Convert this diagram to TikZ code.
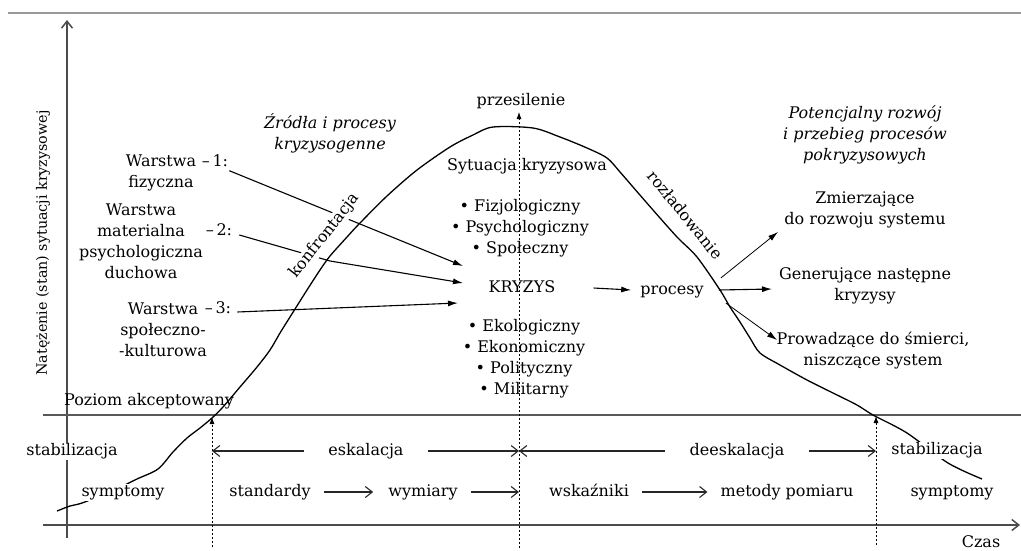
\documentclass[tikz,border=0pt]{standalone}
\usepackage{fontspec}
\setmainfont{DejaVu Serif}
\usetikzlibrary{arrows.meta}
\pgfdeclarelayer{bg}
\pgfsetlayers{bg,main}
\begin{document}
\begin{tikzpicture}[x=1pt,y=-1pt,
  every node/.style={inner sep=1pt},
  base/.style={font=\fontsize{16}{21}\selectfont, text=black},
  one/.style={base, text height=11.5pt, text depth=3.5pt},
  many/.style={base, align=center},
  ital/.style={many, font=\fontsize{16}{21}\selectfont\itshape},
  axisline/.style={draw=black!70, line width=1.5pt},
  level/.style={draw=black!65, line width=1.6pt},
  guide/.style={draw=black, line width=0.8pt, dash pattern=on 2.5pt off 1.5pt,
    -{Latex[length=7pt,width=5pt]}},
  conn/.style={draw=black, line width=1.1pt, -{Latex[length=10pt,width=6pt]}},
  barb/.style={draw=black!85, line width=1.1pt, -{Straight Barb[length=7pt,width=11pt]}},
  curve/.style={draw=black, line width=1.3pt},
]
\useasboundingbox (0,0) rectangle (1021,550);

% ---------- labels ----------
\node[base, font=\fontsize{14.3}{18}\selectfont, rotate=90] (ylab) at (43,243)
  {Natężenie (stan) sytuacji kryzysowej};
\node[one] (top) at (521,101) {przesilenie};
\node[ital] (src) at (330,133) {Źródła i procesy\\kryzysogenne};
\node[ital] (post) at (865,135) {Potencjalny rozwój\\i przebieg procesów\\pokryzysowych};

\node[many] (w1) at (161,172.5) {Warstwa\\fizyczna};
\node[one] (n1) at (215,162) {–\,1:};
\node[many] (w2) at (141,241.5) {Warstwa\\materialna\\psychologiczna\\duchowa};
\node[one] (n2) at (219,231) {–\,2:};
\node[many] (w3) at (163,330) {Warstwa\\społeczno-\\-kulturowa};
\node[one] (n3) at (218,309) {–\,3:};

\node[one] (sit) at (527,166) {Sytuacja kryzysowa};
\node[many] (l1) at (520,228.5) {• Fizjologiczny\\• Psychologiczny\\• Społeczny};
\node[one] (kry) at (522,288) {KRYZYS};
\node[many] (l2) at (524,358.5) {• Ekologiczny\\• Ekonomiczny\\• Polityczny\\• Militarny};
\node[one] (proc) at (672,290) {procesy};

\node[many] (r1) at (865,209.5) {Zmierzające\\do rozwoju systemu};
\node[many] (r2) at (865,286) {Generujące następne\\kryzysy};
\node[many] (r3) at (873,351) {Prowadzące do śmierci,\\niszczące system};

\node[one, fill=white, rotate=52] (konf) at (325,236) {konfrontacja};
\node[one, rotate=-51] (rozl) at (684,216) {rozładowanie};

\node[one] (acc) at (149,401) {Poziom akceptowany};
\node[one, fill=white] (stabL) at (72,451) {stabilizacja};
\node[one] (esk) at (366,451) {eskalacja};
\node[one] (desk) at (737,451) {deeskalacja};

\node[one] (std) at (270,492) {standardy};
\node[one] (wym) at (423,492) {wymiary};
\node[one] (wsk) at (589,492) {wskaźniki};
\node[one] (met) at (787,492) {metody pomiaru};
\node[one] (czas) at (981,543) {Czas};

% ---------- arrow ends ----------
\coordinate (k1) at (463,266);
\coordinate (k2) at (463,283);
\coordinate (k3) at (458,303);
\coordinate (bend2) at (330,261);
\coordinate (t1) at (778,232);
\coordinate (t2) at (772,289);
\coordinate (t3) at (777,340);

\coordinate (g1) at (212,451);
\coordinate (g2) at (519,451);
\coordinate (g3) at (876,451);

% ---------- frame, axes and connectors (underneath the labels) ----------
\begin{pgfonlayer}{bg}
  \draw[draw=black!40, line width=1.2pt] (8,13) -- (1021,13);
  \draw[axisline, -{Straight Barb[length=7pt,width=11pt]}] (67,538) -- (67,20);
  \draw[axisline, -{Straight Barb[length=7pt,width=11pt]}] (43,525) -- (1020,525);
  \draw[level] (43,415) -- (1021,415);

  \draw[guide] (212,547) -- (212,417);
  \draw[guide] (519,548) -- (519,112);
  \draw[guide] (876,545) -- (876,416);

  % phase arrows
  \draw[barb] ([xshift=-23pt]esk.west) -- (g1);
  \draw[barb] ([xshift=23pt]esk.east) -- (g2);
  \draw[barb] ([xshift=-23pt]desk.west) -- (g2);
  \draw[barb] ([xshift=23pt]desk.east) -- (g3);

  % measurement chain
  \draw[barb] ([xshift=12pt]std.east) -- ([xshift=-14pt]wym.west);
  \draw[barb] ([xshift=12pt]wym.east) -- (519,492);
  \draw[barb] ([xshift=12pt]wsk.east) -- ([xshift=-12pt]met.west);

  % layers feeding the crisis
  \draw[conn] (n1.south east) -- (k1);
  \draw[conn] ([shift={(6pt,-4pt)}]n2.east) -- (bend2) -- (k2);
  \draw[conn] ([shift={(5pt,-3pt)}]n3.east) -- (k3);

  % crisis to processes and their outcomes
  \draw[conn] ([xshift=37pt]kry.east) -- ([xshift=-8pt]proc.west);
  \draw[conn, line width=0.8pt] ([shift={(16pt,12pt)}]proc.east) -- (t1);
  \draw[conn] ([xshift=14pt]proc.east) -- (t2);
  \draw[conn, line width=0.8pt] ([shift={(21pt,-13pt)}]proc.east) -- (t3);
\end{pgfonlayer}

% ---------- crisis intensity curve ----------
\draw[curve] plot[smooth, tension=0.5] coordinates {
  (57,511) (70,506) (82,503) (110,492) (137,479) (158,469) (173,452)
  (187,438) (200,428) (212,418) (223,407) (240,387) (257,367) (270,350)
  (280,333) (290,317) (307,290) (320,270) (330,256) (347,237) (360,223)
  (387,196) (417,170) (450,147) (473,135) (493,127) (533,128) (560,137)
  (587,148) (607,158) (620,172) (633,187) (653,210) (677,237) (697,257)
  (720,290) (730,307) (740,322) (750,338) (760,353) (780,365) (807,380)
  (833,393) (857,405) (873,415) (907,433) (948,463) (982,479)};

% labels lying over the curve
\node[one, fill=white] (sympL) at (123,492) {symptomy};
\node[one, fill=white] (stabR) at (937,450) {stabilizacja};
\node[one] (sympR) at (952,492) {symptomy};

\end{tikzpicture}
\end{document}
